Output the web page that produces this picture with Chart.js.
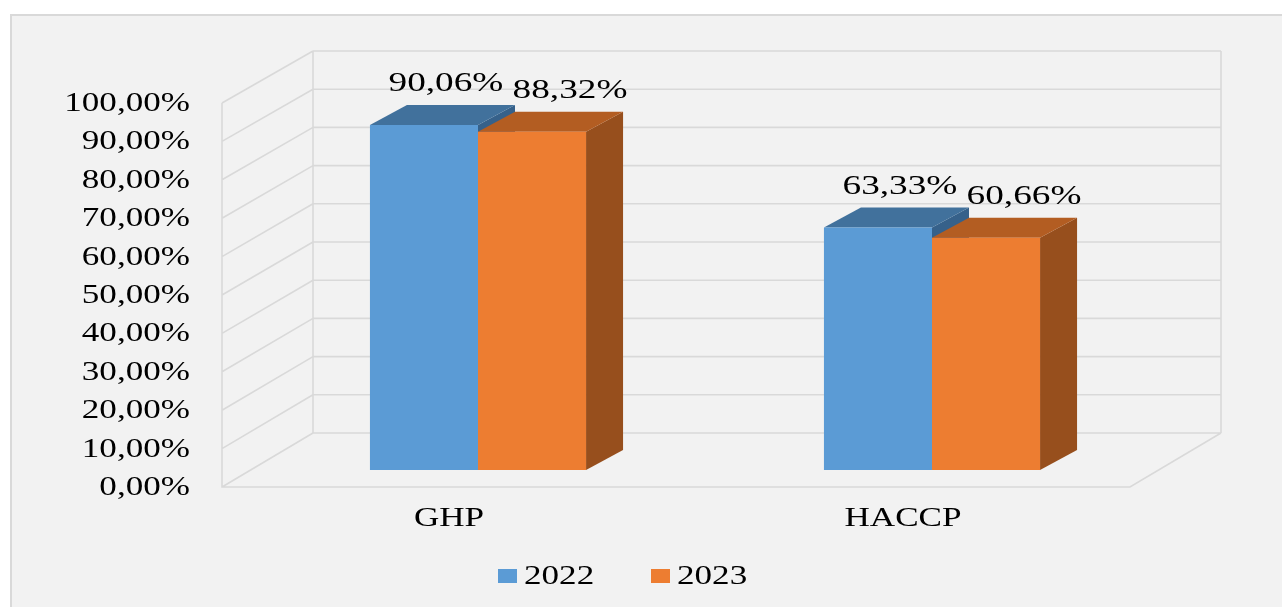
<!DOCTYPE html>
<html><head><meta charset="utf-8">
<script src="https://cdn.jsdelivr.net/npm/chart.js@4/dist/chart.umd.min.js"></script>
<style>html,body{margin:0;padding:0;background:#fff;overflow:hidden;}</style>
</head><body>
<canvas id="c" width="1282" height="607"></canvas>
<script>
// ---- data ----
const categories = ['GHP', 'HACCP'];
const seriesNames = ['2022', '2023'];
const values2022 = [90.06, 63.33];
const values2023 = [88.32, 60.66];
const yTicks = [0, 10, 20, 30, 40, 50, 60, 70, 80, 90, 100];

// ---- style ----
const frontColors = ['#5b9bd5', '#ed7d31'];
const topColors = ['#41719c', '#b35d22'];
const sideColors = ['#36618a', '#974f1d'];
const FONT = '"Liberation Serif", "Times New Roman", serif';
const SX = 1.3;            // horizontal text stretch
const BAR_DX = 37, BAR_DY = -20;   // bar depth
const FRONT_DX = -29, BACK_DX = 62; // wall planes relative to bar plane
const GRID = '#d9d9d9';

function fmtPct(v) { return v.toFixed(2).replace('.', ',') + '%'; }

function stretchText(ctx, text, x, y, align, size, sx) {
  ctx.save();
  ctx.translate(x, y);
  ctx.scale(sx || SX, 1);
  ctx.font = size + 'px ' + FONT;
  ctx.fillStyle = '#000';
  ctx.textAlign = align;
  ctx.textBaseline = 'middle';
  ctx.fillText(text, 0, 0);
  ctx.restore();
}

const backgroundPlugin = {
  id: 'bg',
  beforeDraw(chart) {
    const ctx = chart.ctx;
    ctx.save();
    ctx.fillStyle = '#ffffff';
    ctx.fillRect(0, 0, chart.width, chart.height);
    ctx.fillStyle = '#f2f2f2';
    ctx.fillRect(11, 15, chart.width, chart.height);
    ctx.strokeStyle = '#d9d9d9';
    ctx.lineWidth = 2;
    ctx.strokeRect(11, 15, chart.width + 10, chart.height + 10);
    ctx.restore();
  }
};

const wallsPlugin = {
  id: 'walls',
  beforeDatasetsDraw(chart) {
    const ctx = chart.ctx, a = chart.chartArea;
    const yF = chart.scales.yFront, yB = chart.scales.yBack;
    const fxL = a.left + FRONT_DX, fxR = a.right + FRONT_DX;
    const bxL = a.left + BACK_DX, bxR = a.right + BACK_DX;
    ctx.save();
    ctx.strokeStyle = GRID;
    ctx.lineWidth = 1.6;
    ctx.beginPath();
    yTicks.forEach(v => {
      const by = yB.getPixelForValue(v), fy = yF.getPixelForValue(v);
      ctx.moveTo(bxL, by); ctx.lineTo(bxR, by);
      ctx.moveTo(fxL, fy); ctx.lineTo(bxL, by);
    });
    const top = yTicks[yTicks.length - 1];
    ctx.moveTo(bxL, yB.getPixelForValue(0)); ctx.lineTo(bxL, yB.getPixelForValue(top));
    ctx.moveTo(bxR, yB.getPixelForValue(0)); ctx.lineTo(bxR, yB.getPixelForValue(top));
    ctx.moveTo(fxL, yF.getPixelForValue(top)); ctx.lineTo(fxL, yF.getPixelForValue(0));
    ctx.lineTo(fxR, yF.getPixelForValue(0)); ctx.lineTo(bxR, yB.getPixelForValue(0));
    ctx.stroke();

    // 3D faces of bars (fronts are drawn by Chart.js afterwards)
    const n = chart.data.labels.length;
    for (let i = 0; i < n; i++) {
      chart.data.datasets.forEach((ds, d) => {
        const el = chart.getDatasetMeta(d).data[i];
        const L = el.x - el.width / 2, R = el.x + el.width / 2, T = el.y, B = el.base;
        ctx.fillStyle = sideColors[d];
        ctx.beginPath();
        ctx.moveTo(R, T); ctx.lineTo(R + BAR_DX, T + BAR_DY);
        ctx.lineTo(R + BAR_DX, B + BAR_DY); ctx.lineTo(R, B); ctx.closePath(); ctx.fill();
        ctx.fillStyle = topColors[d];
        ctx.beginPath();
        ctx.moveTo(L, T); ctx.lineTo(R, T);
        ctx.lineTo(R + BAR_DX, T + BAR_DY); ctx.lineTo(L + BAR_DX, T + BAR_DY); ctx.closePath(); ctx.fill();
      });
    }
    ctx.restore();
  },
  afterDraw(chart) {
    const ctx = chart.ctx, a = chart.chartArea;
    const yF = chart.scales.yFront, x = chart.scales.x;
    // y tick labels (front plane)
    yTicks.forEach(v => stretchText(ctx, fmtPct(v), 190, yF.getPixelForValue(v) + 1, 'right', 27));
    // category labels
    chart.data.labels.forEach((lab, i) => {
      stretchText(ctx, lab, x.getPixelForValue(i) + FRONT_DX, 519, 'center', 27);
    });
    // data labels
    const shifts = [22, 38];
    chart.data.datasets.forEach((ds, d) => {
      chart.getDatasetMeta(d).data.forEach((el, i) => {
        stretchText(ctx, fmtPct(ds.data[i]), el.x + shifts[d], el.y - 41, 'center', 27, 1.38);
      });
    });
    // legend
    const legX = [498, 651];
    chart.data.datasets.forEach((ds, d) => {
      ctx.fillStyle = ds.backgroundColor;
      ctx.fillRect(legX[d], 569, 19, 14);
      stretchText(ctx, ds.label, legX[d] + 26, 577, 'left', 27);
    });
  }
};

new Chart(document.getElementById('c'), {
  type: 'bar',
  data: {
    labels: categories,
    datasets: [
      { label: seriesNames[0], data: values2022, backgroundColor: frontColors[0], borderWidth: 0 },
      { label: seriesNames[1], data: values2023, backgroundColor: frontColors[1], borderWidth: 0 }
    ]
  },
  options: {
    responsive: false,
    animation: false,
    events: [],
    layout: { padding: { left: 251, right: 123, top: 51, bottom: 120 } },
    datasets: { bar: { barPercentage: 1, categoryPercentage: 0.476 } },
    plugins: { legend: { display: false }, tooltip: { enabled: false } },
    scales: {
      x: { type: 'category', display: false, offset: true },
      y: { display: false, min: -4.44, max: 109.4 },
      yFront: { display: false, min: 0, max: 113.54 },
      yBack: { display: false, min: -14.14, max: 100 }
    }
  },
  plugins: [backgroundPlugin, wallsPlugin]
});
</script>
</body></html>
